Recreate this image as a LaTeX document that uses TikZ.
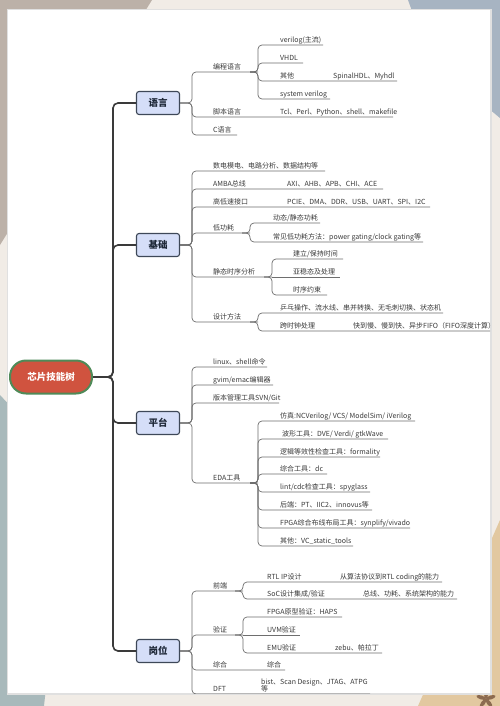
\documentclass[tikz,border=0pt]{standalone}
\usepackage{fontspec}
\setmainfont{Noto Sans CJK SC}
\definecolor{bg}{HTML}{F1ECE6}
\definecolor{tlc}{HTML}{BCB1A8}
\definecolor{trc}{HTML}{A7B4C2}
\definecolor{blc}{HTML}{A8B9BB}
\definecolor{brc}{HTML}{E2C8A0}
\definecolor{fl}{HTML}{8C6B50}
\definecolor{txt}{HTML}{3A3A3A}
\definecolor{ln}{HTML}{6E6E6E}
\definecolor{tk}{HTML}{3A3A3A}
\definecolor{bxf}{HTML}{D5DEF8}
\definecolor{bxd}{HTML}{3E4858}
\definecolor{bxt}{HTML}{1E2838}
\definecolor{rtf}{HTML}{D0533F}
\definecolor{rtd}{HTML}{4F8A58}
\newcommand\lf[5]{\node[lbl] (#1) at (#2,#3-2.5) {#5}; \coordinate (#1-e) at (#4,#3);}
\begin{document}
\begin{tikzpicture}[x={(1pt,0)},y={(0,-1pt)},
  lbl/.style={anchor=base west,inner sep=0pt,font=\fontsize{7}{8}\selectfont,text=txt},
  conn/.style={draw=ln,line width=0.7pt,rounded corners=4pt},
  trunk/.style={draw=tk,line width=1.6pt,rounded corners=5pt},
  topic/.style={draw=bxd,fill=bxf,line width=1.1pt,rounded corners=2.5pt,minimum width=43pt,minimum height=23pt,inner sep=0pt,font=\fontsize{9.5}{10}\selectfont\bfseries,text=bxt},
  rootn/.style={draw=rtd,fill=rtf,line width=2pt,rounded corners=16pt,minimum width=82pt,minimum height=33pt,inner sep=0pt,font=\fontsize{9.5}{10}\selectfont\bfseries,text=white}]
\useasboundingbox (0,0) rectangle (500,706);
\fill[bg] (0,0) rectangle (500,706);
\fill[tlc] (0,0) -- (152,0) -- (0,245) -- cycle;
\fill[trc] (408,0) -- (500,0) -- (500,118) -- (430,60) -- cycle;
\fill[blc] (0,395) -- (70,470) -- (44,706) -- (0,706) -- cycle;
\fill[brc] (418,706) -- (500,520) -- (500,706) -- cycle;
\foreach \a in {0,72,144,216,288} \fill[fl,rotate around={\a:(486,699)}] (486,694) ellipse (2pt and 5pt);
\fill[black!12] (7,9.5) rectangle (491.5,694.5);
\fill[white] (8,10) rectangle (490,693);
\begin{scope}
\clip (8,10) rectangle (490,693);
% root and topics
\node[rootn] (root) at (51,377) {芯片技能树};
\node[topic] (yy) at (158,103) {语言};
\node[topic] (jc) at (158,245) {基础};
\node[topic] (pt) at (158,423) {平台};
\node[topic] (gw) at (158,651) {岗位};
\coordinate (trj) at (113,377);
\foreach \b in {yy,jc,pt,gw} \draw[trunk] (root.east) -- (trj) |- (\b.west);
% 语言
\lf{bcyy}{213}{72}{258}{编程语言}
\lf{vlg}{280}{45}{323}{verilog(主流)}
\lf{vhdl}{280}{63}{303}{VHDL}
\lf{qt}{280}{81}{397}{其他}
\node[lbl] (qtx) at (333,78.5) {SpinalHDL、Myhdl};
\lf{sv}{280}{99}{330}{system verilog}
\lf{jbyy}{213}{117}{393}{脚本语言}
\node[lbl] (jbx) at (280,114.5) {Tcl、Perl、Python、shell、makefile};
\lf{cyy}{213}{135}{237}{C语言}
\coordinate (yyj) at (192,103);
\foreach \c in {bcyy,jbyy,cyy} \draw[conn] (yy.east) -- (yyj) |- (\c-e);
\foreach \c in {vlg,vhdl,qt,sv} \draw[conn] ([xshift=-8pt]bcyy-e) -- (bcyy-e) |- (\c-e);
% 基础
\lf{sd}{213}{171}{325}{数电模电、电路分析、数据结构等}
\lf{amba}{213}{189}{383}{AMBA总线}
\node[lbl] (ambax) at (287,186.5) {AXI、AHB、APB、CHI、ACE};
\lf{gd}{213}{207}{430}{高低速接口}
\node[lbl] (gdx) at (287,204.5) {PCIE、DMA、DDR、USB、UART、SPI、I2C};
\lf{dgh}{213}{233}{250}{低功耗}
\lf{dt}{273}{223}{320}{动态/静态功耗}
\lf{cj}{273}{242}{423}{常见低功耗方法：power gating/clock gating等}
\lf{jt}{213}{277}{272}{静态时序分析}
\lf{jl}{293}{259}{343}{建立/保持时间}
\lf{yw}{293}{277}{340}{亚稳态及处理}
\lf{sx}{293}{295}{327}{时序约束}
\lf{sj}{213}{322}{258}{设计方法}
\lf{pp}{280}{313}{443}{乒乓操作、流水线、串并转换、无毛刺切换、状态机}
\lf{ks}{280}{331}{492}{跨时钟处理}
\node[lbl] (ksx) at (353,328.5) {快到慢、慢到快、异步FIFO（FIFO深度计算）};
\coordinate (jcj) at (192,245);
\foreach \c in {sd,amba,gd,dgh,jt,sj} \draw[conn] (jc.east) -- (jcj) |- (\c-e);
\foreach \c in {dt,cj} \draw[conn] ([xshift=-8pt]dgh-e) -- (dgh-e) |- (\c-e);
\foreach \c in {jl,sx} \draw[conn] ([xshift=-8pt]jt-e) -- (jt-e) |- (\c-e);
\draw[conn] (jt-e) -- (yw-e);
\foreach \c in {pp,ks} \draw[conn] ([xshift=-8pt]sj-e) -- (sj-e) |- (\c-e);
% 平台
\lf{lx}{213}{367}{267}{linux、shell命令}
\lf{gv}{213}{385}{273}{gvim/emac编辑器}
\lf{bb}{213}{403}{279}{版本管理工具SVN/Git}
\lf{eda}{213}{483}{258}{EDA工具}
\lf{fz}{280}{421}{415}{仿真:NCVerilog/ VCS/ ModelSim/ iVerilog}
\lf{bx}{282}{439}{388}{波形工具：DVE/ Verdi/ gtkWave}
\lf{lj}{280}{457}{380}{逻辑等效性检查工具：formality}
\lf{zh}{280}{474}{327}{综合工具：dc}
\lf{lint}{280}{492}{370}{lint/cdc检查工具：spyglass}
\lf{hd}{280}{510}{372}{后端：PT、IIC2、innovus等}
\lf{fpga}{280}{528}{410}{FPGA综合布线布局工具：synplify/vivado}
\lf{qt2}{280}{546}{353}{其他：VC\_static\_tools}
\coordinate (ptj) at (192,423);
\foreach \c in {lx,gv,bb,eda} \draw[conn] (pt.east) -- (ptj) |- (\c-e);
\foreach \c in {fz,bx,lj,zh,lint,hd,fpga,qt2} \draw[conn] ([xshift=-8pt]eda-e) -- (eda-e) |- (\c-e);
% 岗位
\lf{qd}{213}{591}{243}{前端}
\lf{rtl}{267}{582}{442}{RTL IP设计}
\node[lbl] (rtlx) at (340,579.5) {从算法协议到RTL coding的能力};
\lf{soc}{267}{599}{457}{SoC设计集成/验证}
\node[lbl] (socx) at (363,596.5) {总线、功耗、系统架构的能力};
\lf{yz}{213}{635}{243}{验证}
\lf{fp}{267}{617}{342}{FPGA原型验证：HAPS}
\lf{uvm}{267}{635}{300}{UVM验证}
\lf{emu}{267}{653}{382}{EMU验证}
\node[lbl] (emux) at (335,650.5) {zebu、帕拉丁};
\lf{zhh}{213}{670}{285}{综合}
\node[lbl] (zhhx) at (267,667.5) {综合};
\lf{dft}{213}{694}{370}{DFT}
\node[lbl] (bist) at (261,684.5) {bist、Scan Design、JTAG、ATPG};
\node[lbl] (deng) at (261,691.5) {等};
\coordinate (gwj) at (192,651);
\foreach \c in {qd,yz,zhh,dft} \draw[conn] (gw.east) -- (gwj) |- (\c-e);
\foreach \c in {rtl,soc} \draw[conn] ([xshift=-8pt]qd-e) -- (qd-e) |- (\c-e);
\foreach \c in {fp,emu} \draw[conn] ([xshift=-8pt]yz-e) -- (yz-e) |- (\c-e);
\draw[conn] (yz-e) -- (uvm-e);
\end{scope}
\end{tikzpicture}
\end{document}
